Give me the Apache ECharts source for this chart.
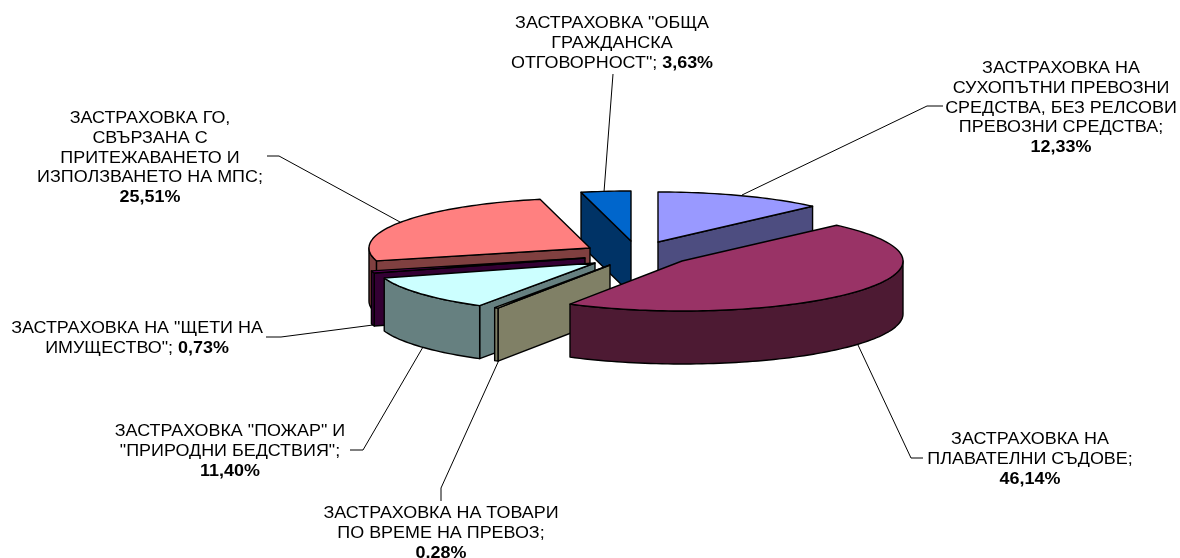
<!DOCTYPE html>
<html>
<head>
<meta charset="utf-8">
<style>html,body{margin:0;padding:0;background:#fff}#chart{width:1180px;height:558px}</style>
<script src="https://cdn.jsdelivr.net/npm/echarts@6/dist/echarts.min.js"></script>
</head>
<body>
<div id="chart"></div>
<script>
var labels = [
  'ЗАСТРАХОВКА НА\nСУХОПЪТНИ ПРЕВОЗНИ\nСРЕДСТВА, БЕЗ РЕЛСОВИ\nПРЕВОЗНИ СРЕДСТВА;\n',
  'ЗАСТРАХОВКА НА\nПЛАВАТЕЛНИ СЪДОВЕ;\n',
  'ЗАСТРАХОВКА НА ТОВАРИ\nПО ВРЕМЕ НА ПРЕВОЗ;\n',
  'ЗАСТРАХОВКА "ПОЖАР" И\n"ПРИРОДНИ БЕДСТВИЯ";\n',
  'ЗАСТРАХОВКА НА "ЩЕТИ НА\nИМУЩЕСТВО"; ',
  'ЗАСТРАХОВКА ГО,\nСВЪРЗАНА С\nПРИТЕЖАВАНЕТО И\nИЗПОЛЗВАНЕТО НА МПС;\n',
  'ЗАСТРАХОВКА "ОБЩА\nГРАЖДАНСКА\nОТГОВОРНОСТ"; '
];
var values = [12.33, 46.14, 0.28, 11.4, 0.73, 25.51, 3.63];

var topColors = ['#9999ff', '#993366', '#ffffcc', '#ccffff', '#660066', '#ff8080', '#0066cc'];
var wallColors = ['#4d4d80', '#4d1a33', '#808066', '#668080', '#330033', '#804040', '#003366'];

// painter's order, back slices first
var drawOrder = [6, 0, 5, 4, 3, 2, 1];

// pie geometry
var cx = 640, cy = 254, rx = 221, ry = 50, depth = 53;
// how far each slice is pulled out of the pie
var pullX = [18, 42, -30, -45, -55, -50, -9];
var pullY = [-12, 7, 11, 9, 4, -6, -13];

// label anchor (centre, top) and leader line of each slice
var labelPos = [[1061, 59], [1030, 430], [441, 504], [230, 422], [137, 319], [150, 109], [612, 14]];
var leaders = [
  [[742, 195], [927, 106], [943, 106]],
  [[858, 345], [911, 458], [923, 458]],
  [[499, 360], [441, 488], [441, 501]],
  [[423, 347], [363, 450], [350, 450]],
  [[373, 325], [281, 337], [266, 337]],
  [[400, 222], [279, 156], [267, 156]],
  [[604, 192], [613, 74]]
];

var total = values.reduce(function (a, b) { return a + b; }, 0);
var angles = [0];
values.forEach(function (v, i) { angles.push(angles[i] + v / total * 360); });

function pt(i, deg, dz) {
  var r = deg * Math.PI / 180;
  return [cx + pullX[i] + rx * Math.sin(r), cy + pullY[i] - ry * Math.cos(r) + (dz || 0)];
}
function apex(i, dz) {
  return [cx + pullX[i], cy + pullY[i] + (dz || 0)];
}
function arc(i, a0, a1, dz) {
  var pts = [];
  var n = Math.max(2, Math.ceil((a1 - a0) / 1.5));
  for (var k = 0; k <= n; k++) pts.push(pt(i, a0 + (a1 - a0) * k / n, dz));
  return pts;
}
function poly(points, fill) {
  return {
    type: 'polygon',
    shape: { points: points },
    style: { fill: fill, stroke: '#000', lineWidth: 1.4, lineJoin: 'round' }
  };
}

function renderSlice(params, api) {
  var i = api.value(0);
  var a0 = angles[i], a1 = angles[i + 1];
  var wall = wallColors[i];
  var kids = [];
  // side walls facing the viewer only
  if (Math.sin(a0 * Math.PI / 180) < -0.001) {
    kids.push(poly([apex(i), pt(i, a0), pt(i, a0, depth), apex(i, depth)], wall));
  }
  if (Math.sin(a1 * Math.PI / 180) > 0.001) {
    kids.push(poly([apex(i), pt(i, a1), pt(i, a1, depth), apex(i, depth)], wall));
  }
  var f0 = Math.max(a0, 90), f1 = Math.min(a1, 270);
  if (f1 > f0) {
    kids.push(poly(arc(i, f0, f1).concat(arc(i, f0, f1, depth).reverse()), wall));
  }
  kids.push(poly([apex(i)].concat(arc(i, a0, a1)), topColors[i]));
  return { type: 'group', children: kids };
}

var chart = echarts.init(document.getElementById('chart'), null, { renderer: 'canvas' });

var graphics = [];
labels.forEach(function (txt, i) {
  var pct = values[i].toFixed(2).replace('.', ',') + '%';
  var lines = txt.split('\n');
  var last = lines.length - 1;
  lines[last] = lines[last] ? '{n|' + lines[last] + '}{b|' + pct + '}' : '{b|' + pct + '}';
  for (var k = 0; k < last; k++) lines[k] = '{n|' + lines[k] + '}';
  graphics.push({
    type: 'polyline',
    shape: { points: leaders[i] },
    style: { stroke: '#000', lineWidth: 1, fill: null },
    z: 1
  });
  graphics.push({
    type: 'text',
    x: labelPos[i][0],
    y: labelPos[i][1],
    scaleX: 1.12,
    style: {
      text: lines.join('\n'),
      align: 'center',
      verticalAlign: 'top',
      fill: '#000',
      rich: {
        n: { font: '16px "Liberation Sans"', lineHeight: 19.7, fill: '#000' },
        b: { font: 'bold 16px "Liberation Sans"', lineHeight: 19.7, fill: '#000' }
      }
    },
    z: 1
  });
});

var option = {
  animation: false,
  backgroundColor: '#fff',
  graphic: graphics,
  series: [
    {
      type: 'custom',
      coordinateSystem: 'none',
      z: 5,
      silent: true,
      renderItem: renderSlice,
      data: drawOrder.map(function (i) { return [i, values[i]]; })
    }
  ]
};
chart.setOption(option);
</script>
</body>
</html>
